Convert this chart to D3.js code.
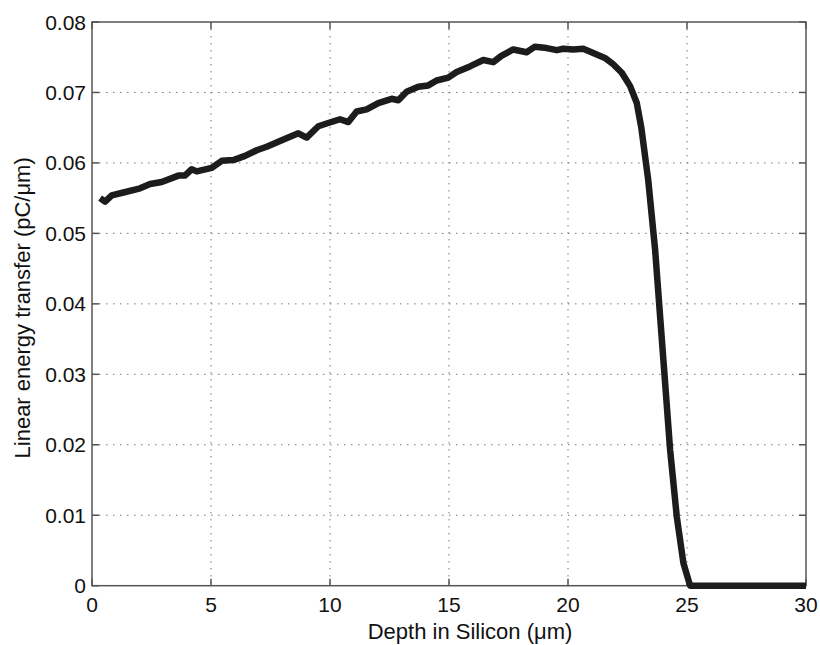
<!DOCTYPE html>
<html lang="en">
<head>
<meta charset="utf-8">
<title>Linear energy transfer vs depth</title>
<script src="https://d3js.org/d3.v7.min.js"></script>
<style>
  body { margin: 0; background: #fff; }
  svg { display: block; }
  .tick-label { font-family: "Liberation Sans", Arial, sans-serif; font-size: 21px; fill: #111; }
  .axis-label { font-family: "Liberation Sans", Arial, sans-serif; font-size: 22px; fill: #111; }
  .grid line { stroke: #777; stroke-width: 1; stroke-dasharray: 1.5,5.5; }
</style>
</head>
<body>
<svg width="820" height="645"></svg>
<script>
// depth in silicon (um)
const depth = [0.34, 0.55, 0.83, 1.32, 2.02, 2.44, 2.93, 3.63, 3.90, 4.19, 4.40, 5.03,
  5.45, 5.94, 6.43, 6.92, 7.34, 7.90, 8.32, 8.67, 9.02, 9.51, 9.86, 10.42, 10.77,
  11.12, 11.54, 12.03, 12.59, 12.87, 13.22, 13.71, 14.13, 14.48, 14.97, 15.32,
  15.88, 16.44, 16.86, 17.20, 17.70, 18.26, 18.61, 19.10, 19.53, 19.80, 20.22,
  20.64, 21.06, 21.55, 21.90, 22.26, 22.61, 22.89, 23.08, 23.37, 23.66, 23.87,
  24.08, 24.29, 24.57, 24.85, 25.13, 30];
// linear energy transfer (pC/um)
const letValues = [0.0550, 0.0545, 0.0554, 0.0558, 0.0564, 0.0570, 0.0573, 0.0582, 0.0582,
  0.0591, 0.0588, 0.0593, 0.0603, 0.0604, 0.0610, 0.0618, 0.0623, 0.0631, 0.0637,
  0.0642, 0.0636, 0.0652, 0.0656, 0.0662, 0.0658, 0.0673, 0.0676, 0.0685, 0.0691,
  0.0689, 0.0701, 0.0708, 0.0710, 0.0717, 0.0721, 0.0729, 0.0737, 0.0746, 0.0743,
  0.0752, 0.0761, 0.0757, 0.0765, 0.0763, 0.0760, 0.0762, 0.0761, 0.0762, 0.0756,
  0.0749, 0.0740, 0.0728, 0.0709, 0.0685, 0.0650, 0.0576, 0.0477, 0.0382, 0.0288,
  0.0193, 0.0098, 0.0032, 0.0, 0.0];

const xTicks = [0, 5, 10, 15, 20, 25, 30];
const yTicks = [0, 0.01, 0.02, 0.03, 0.04, 0.05, 0.06, 0.07, 0.08];
const xTitle = "Depth in Silicon (\u03bcm)";
const yTitle = "Linear energy transfer (pC/\u03bcm)";

const svg = d3.select("svg");
const mLeft = 92, mTop = 22, mRight = 806, mBottom = 585.7;

const x = d3.scaleLinear().domain([0, 30]).range([mLeft, mRight]);
const y = d3.scaleLinear().domain([0, 0.08]).range([mBottom, mTop]);

// grid (dotted)
const grid = svg.append("g").attr("class", "grid");
grid.selectAll("line.v")
    .data(xTicks.slice(1, -1))
    .enter().append("line")
    .attr("x1", d => x(d)).attr("x2", d => x(d))
    .attr("y1", mTop).attr("y2", mBottom);
grid.selectAll("line.h")
    .data(yTicks.slice(1, -1))
    .enter().append("line")
    .attr("x1", mLeft).attr("x2", mRight)
    .attr("y1", d => y(d)).attr("y2", d => y(d));

// box
svg.append("rect")
   .attr("x", mLeft).attr("y", mTop)
   .attr("width", mRight - mLeft).attr("height", mBottom - mTop)
   .attr("fill", "none")
   .attr("stroke", "#555")
   .attr("stroke-width", 1.5);

// inward tick marks on all four sides
const tickLen = 7;
const ticks = svg.append("g").attr("stroke", "#555").attr("stroke-width", 1.5);
xTicks.forEach(t => {
  ticks.append("line").attr("x1", x(t)).attr("x2", x(t)).attr("y1", mBottom).attr("y2", mBottom - tickLen);
  ticks.append("line").attr("x1", x(t)).attr("x2", x(t)).attr("y1", mTop).attr("y2", mTop + tickLen);
});
yTicks.forEach(t => {
  ticks.append("line").attr("x1", mLeft).attr("x2", mLeft + tickLen).attr("y1", y(t)).attr("y2", y(t));
  ticks.append("line").attr("x1", mRight).attr("x2", mRight - tickLen).attr("y1", y(t)).attr("y2", y(t));
});

// tick labels
svg.selectAll("text.xt")
   .data(xTicks)
   .enter().append("text")
   .attr("class", "tick-label")
   .attr("x", d => x(d))
   .attr("y", 612)
   .attr("text-anchor", "middle")
   .text(d => d);

svg.selectAll("text.yt")
   .data(yTicks)
   .enter().append("text")
   .attr("class", "tick-label")
   .attr("x", 86)
   .attr("y", d => y(d) + 7.5)
   .attr("text-anchor", "end")
   .text(d => d === 0 ? "0" : d.toFixed(2));

// the curve
const line = d3.line()
    .x((d, i) => x(depth[i]))
    .y((d, i) => y(letValues[i]));

svg.append("path")
   .datum(letValues)
   .attr("d", line)
   .attr("fill", "none")
   .attr("stroke", "#1c1c1c")
   .attr("stroke-width", 6.5)
   .attr("stroke-linejoin", "round")
   .attr("stroke-linecap", "butt");

// axis titles (x title sits a little right of centre in the original)
svg.append("text")
   .attr("class", "axis-label")
   .attr("x", 470)
   .attr("y", 639)
   .attr("text-anchor", "middle")
   .text(xTitle);

svg.append("text")
   .attr("class", "axis-label")
   .attr("transform", "translate(30," + ((mTop + mBottom) / 2 + 4) + ") rotate(-90)")
   .attr("text-anchor", "middle")
   .text(yTitle);
</script>
</body>
</html>
